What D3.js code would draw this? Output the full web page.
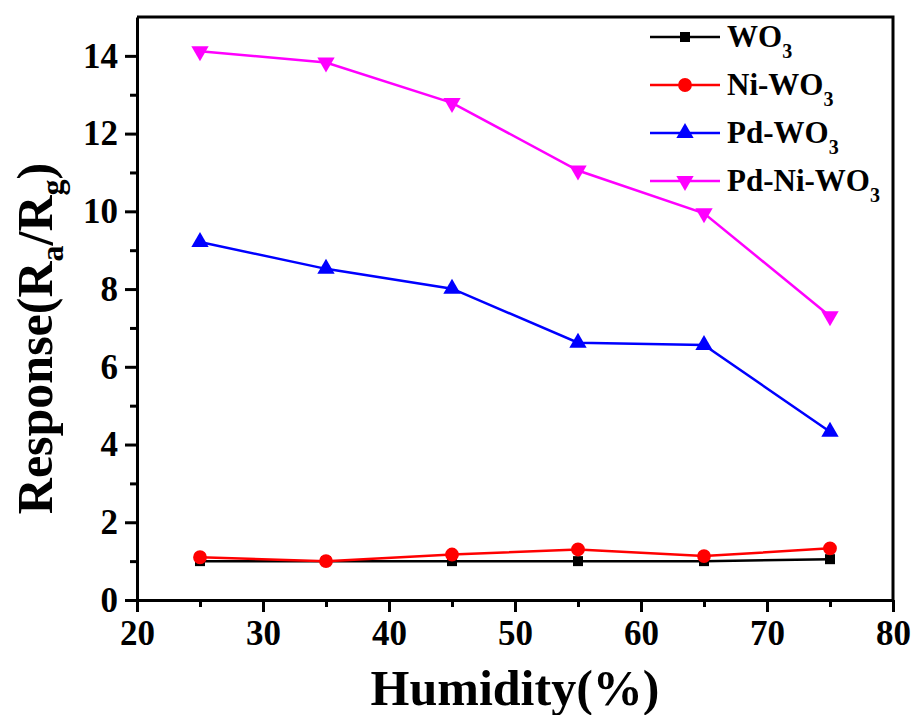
<!DOCTYPE html>
<html>
<head>
<meta charset="utf-8">
<script src="https://cdn.jsdelivr.net/npm/d3@7"></script>
<style>
  body { margin: 0; background: #fff; }
  .line { fill: none; stroke-width: 2.5px; }
</style>
</head>
<body>
<script>
  // humidity levels (%)
  let humidity = [25, 35, 45, 55, 65, 75];

  let wo3 = [1.0, 1.0, 1.0, 1.0, 1.0, 1.05];
  let niWo3 = [1.1, 1.0, 1.17, 1.3, 1.13, 1.33];
  let pdWo3 = [9.21, 8.52, 8.01, 6.62, 6.56, 4.33];
  let pdNiWo3 = [14.12, 13.83, 12.79, 11.05, 9.95, 7.3];

  let seriesNames = ['WO', 'Ni-WO', 'Pd-WO', 'Pd-Ni-WO'];
  let seriesColors = ['#000000', '#ff0000', '#0000ff', '#ff00ff'];
  let seriesSymbols = [d3.symbolSquare, d3.symbolCircle, d3.symbolTriangle, d3.symbolTriangle];
  let seriesValues = [wo3, niWo3, pdWo3, pdNiWo3];

  let xTicks = [20, 30, 40, 50, 60, 70, 80];
  let yTicks = [0, 2, 4, 6, 8, 10, 12, 14];

  let serif = '"Liberation Serif", "Times New Roman", serif';

  let margin = {top: 17, right: 22, bottom: 115, left: 137};
  let width = 915 - margin.left - margin.right;
  let height = 715 - margin.top - margin.bottom;

  let svg = d3.select('body').append('svg')
    .attr('width', 915)
    .attr('height', 715)
    .style('font-family', serif)
    .style('font-weight', 'bold');

  let g = svg.append('g')
    .attr('transform', 'translate(' + margin.left + ',' + margin.top + ')');

  let scaleX = d3.scaleLinear().domain([20, 80]).range([0, width]);
  let scaleY = d3.scaleLinear().domain([0, 15]).range([height, 0]);

  function styleAxis(sel) {
    sel.attr('font-family', null).attr('font-size', null);
    sel.selectAll('line').attr('stroke-width', 3);
    sel.selectAll('path').attr('stroke-width', 3);
    sel.selectAll('text')
      .style('font-family', serif)
      .style('font-size', '35px')
      .style('font-weight', 'bold');
  }

  // minor ticks
  g.append('g')
    .attr('transform', 'translate(0,' + height + ')')
    .call(d3.axisBottom(scaleX).tickValues(d3.range(25, 80, 10)).tickSize(7).tickFormat(''))
    .call(styleAxis)
    .select('.domain').remove();
  g.append('g')
    .call(d3.axisLeft(scaleY).tickValues(d3.range(1, 15, 2)).tickSize(7).tickFormat(''))
    .call(styleAxis)
    .select('.domain').remove();

  // major ticks
  g.append('g')
    .attr('transform', 'translate(0,' + height + ')')
    .call(d3.axisBottom(scaleX).tickValues(xTicks).tickSize(12).tickSizeOuter(0).tickPadding(8))
    .call(styleAxis);
  g.append('g')
    .call(d3.axisLeft(scaleY).tickValues(yTicks).tickSize(12).tickSizeOuter(0).tickPadding(7))
    .call(styleAxis);

  // frame top / right
  g.append('path')
    .attr('d', 'M0,0H' + width + 'V' + height)
    .attr('fill', 'none')
    .attr('stroke', '#000')
    .attr('stroke-width', 3);

  let line = d3.line()
    .x(function(d) { return scaleX(d.x); })
    .y(function(d) { return scaleY(d.y); });

  function symbolTransform(i, x, y) {
    let rot = i === 3 ? ' rotate(180)' : '';
    return 'translate(' + x + ',' + y + ')' + rot;
  }
  let symbolSizes = [100, 150, 130, 130];

  seriesValues.forEach(function(vals, i) {
    let pts = vals.map(function(v, j) { return {x: humidity[j], y: v}; });
    g.append('path')
      .datum(pts)
      .attr('class', 'line')
      .attr('stroke', seriesColors[i])
      .attr('d', line);
    g.selectAll('.m' + i)
      .data(pts)
      .enter().append('path')
      .attr('class', 'm' + i)
      .attr('d', d3.symbol().type(seriesSymbols[i]).size(symbolSizes[i]))
      .attr('fill', seriesColors[i])
      .attr('transform', function(d) { return symbolTransform(i, scaleX(d.x), scaleY(d.y)); });
  });

  // legend
  let legend = svg.append('g').attr('transform', 'translate(650,37)');
  seriesNames.forEach(function(name, i) {
    let row = legend.append('g').attr('transform', 'translate(0,' + (i * 48) + ')');
    row.append('line')
      .attr('x1', 0).attr('x2', 70).attr('y1', 0).attr('y2', 0)
      .attr('stroke', seriesColors[i]).attr('stroke-width', 2.5);
    row.append('path')
      .attr('d', d3.symbol().type(seriesSymbols[i]).size(symbolSizes[i])())
      .attr('fill', seriesColors[i])
      .attr('transform', symbolTransform(i, 35, 0));
    let t = row.append('text')
      .attr('x', 77).attr('y', 10)
      .style('font-size', '31px');
    t.append('tspan').text(name);
    t.append('tspan').attr('dy', 11).style('font-size', '20px').text('3');
  });

  // axis titles
  svg.append('text')
    .attr('x', margin.left + width / 2)
    .attr('y', 705)
    .attr('text-anchor', 'middle')
    .style('font-size', '50px')
    .text('Humidity(%)');

  let yTitle = svg.append('text')
    .attr('transform', 'translate(52,' + (margin.top + height / 2 + 30) + ') rotate(-90)')
    .attr('text-anchor', 'middle')
    .style('font-size', '50px');
  yTitle.append('tspan').text('Response(R');
  yTitle.append('tspan').attr('dy', 11).style('font-size', '32px').text('a');
  yTitle.append('tspan').attr('dy', -11).text('/R');
  yTitle.append('tspan').attr('dy', 11).style('font-size', '32px').text('g');
  yTitle.append('tspan').attr('dy', -11).text(')');
</script>
</body>
</html>
